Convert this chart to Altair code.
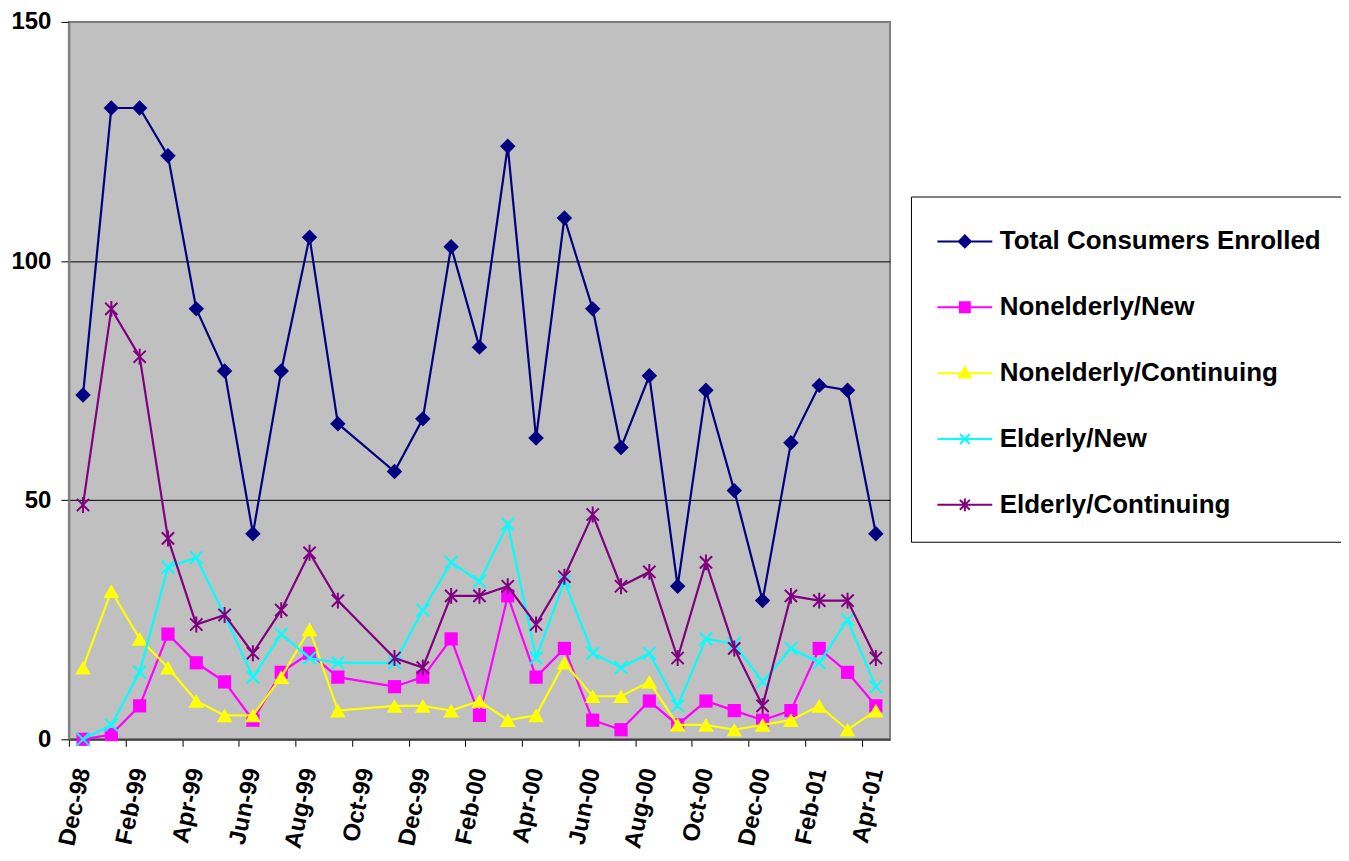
import json
import altair as alt
import pandas as pd

# ---------------- data ----------------
axis_months = ["Dec-98", "Jan-99", "Feb-99", "Mar-99", "Apr-99", "May-99", "Jun-99",
               "Jul-99", "Aug-99", "Sep-99", "Oct-99", "Nov-99", "Dec-99", "Jan-00",
               "Feb-00", "Mar-00", "Apr-00", "May-00", "Jun-00", "Jul-00", "Aug-00",
               "Sep-00", "Oct-00", "Nov-00", "Dec-00", "Jan-01", "Feb-01", "Mar-01",
               "Apr-01"]

months = ["Dec-98", "Jan-99", "Feb-99", "Mar-99", "Apr-99", "May-99", "Jun-99",
          "Jul-99", "Aug-99", "Sep-99", "Nov-99", "Dec-99", "Jan-00", "Feb-00",
          "Mar-00", "Apr-00", "May-00", "Jun-00", "Jul-00", "Aug-00", "Sep-00",
          "Oct-00", "Nov-00", "Dec-00", "Jan-01", "Feb-01", "Mar-01", "Apr-01"]

total = [72, 132, 132, 122, 90, 77, 43, 77, 105, 66, 56, 67, 103, 82, 124, 63, 109,
         90, 61, 76, 32, 73, 52, 29, 62, 74, 73, 43]
nonelderly_new = [0, 1, 7, 22, 16, 12, 4, 14, 18, 13, 11, 13, 21, 5, 30, 13, 19, 4, 2,
                  8, 3, 8, 6, 4, 6, 19, 14, 7]
nonelderly_cont = [15, 31, 21, 15, 8, 5, 5, 13, 23, 6, 7, 7, 6, 8, 4, 5, 16, 9, 9, 12,
                   3, 3, 2, 3, 4, 7, 2, 6]
elderly_new = [0, 3, 14, 36, 38, 26, 13, 22, 17, 16, 16, 27, 37, 33, 45, 17, 33, 18,
               15, 18, 7, 21, 20, 12, 19, 16, 25, 11]
elderly_cont = [49, 90, 80, 42, 24, 26, 18, 27, 39, 29, 17, 15, 30, 30, 32, 24, 34, 47,
                32, 35, 17, 37, 19, 7, 30, 29, 29, 17]

series_names = ["Total Consumers Enrolled", "Nonelderly/New", "Nonelderly/Continuing",
                "Elderly/New", "Elderly/Continuing"]
series_values = [total, nonelderly_new, nonelderly_cont, elderly_new, elderly_cont]

# ---------------- styles ----------------
colors = ["#000080", "#FF00FF", "#FFFF00", "#00FFFF", "#800080"]
marker_shapes = ["diamond", "square", "triangle-up",
                 "M-1,-1L1,1M-1,1L1,-1",
                 "M-1,-1L1,1M-1,1L1,-1M0,-1.3L0,1.3"]
marker_filled = [True, True, True, False, False]
marker_sizes = [240, 175, 250, 160, 150]
legend_shapes = [
    "M-1.375,0L1.375,0M0,-0.3L0.3,0L0,0.3L-0.3,0Z",
    "M-1.375,0L1.375,0M-0.25,-0.25L0.25,-0.25L0.25,0.25L-0.25,0.25Z",
    "M-1.375,0L1.375,0M0,-0.3L0.3,0.22L-0.3,0.22Z",
    "M-1.375,0L1.375,0M-0.25,-0.25L0.25,0.25M-0.25,0.25L0.25,-0.25",
    "M-1.375,0L1.375,0M-0.25,-0.25L0.25,0.25M-0.25,0.25L0.25,-0.25M0,-0.32L0,0.32",
]

FONT = "Liberation Sans"

rows = []
for name, vals in zip(series_names, series_values):
    for m, v in zip(months, vals):
        rows.append({"month": m, "series": name, "value": v,
                     "x": axis_months.index(m) + 0.5})
df = pd.DataFrame(rows)

n_months = len(axis_months)
W, H = 823, 719
TOP = 13

x_enc = alt.X(
    "x:Q",
    title=None,
    scale=alt.Scale(domain=[0, n_months], nice=False, zero=False),
    axis=alt.Axis(
        values=list(range(0, n_months, 2)),
        labelExpr=json.dumps(axis_months) + "[datum.value]",
        grid=False,
        ticks=True, tickSize=7, tickColor="#000000", tickWidth=1,
        domainColor="#404040", domainWidth=2,
        labelAngle=282, labelAlign="right", labelBaseline="middle",
        labelOffset=W / n_months / 2, labelPadding=22,
        labelFont=FONT, labelFontSize=24, labelFontWeight="bold", labelColor="#000000",
        labelOverlap=False, labelFlush=False,
    ),
)
y_enc = alt.Y(
    "value:Q",
    title=None,
    scale=alt.Scale(domain=[0, 150], nice=False, zero=True),
    axis=alt.Axis(
        values=[0, 50, 100, 150],
        grid=True,
        gridColor=alt.condition("datum.value == 150 || datum.value == 0",
                                alt.value("#808080"), alt.value("#000000")),
        gridWidth=1,
        ticks=True, tickSize=8, tickColor="#000000", tickWidth=1,
        domainColor="#808080", domainWidth=2,
        labelPadding=10,
        labelFont=FONT, labelFontSize=24, labelFontWeight="bold", labelColor="#000000",
    ),
)

base = alt.Chart(df)
layers = []
for i, name in enumerate(series_names):
    sub = base.transform_filter(alt.datum.series == name)
    line = sub.mark_line(color=colors[i], strokeWidth=2.2).encode(x=x_enc, y=y_enc)
    if marker_filled[i]:
        pts = sub.mark_point(shape=marker_shapes[i], filled=True, fill=colors[i],
                             opacity=1, size=marker_sizes[i], strokeWidth=0)
    else:
        pts = sub.mark_point(shape=marker_shapes[i], filled=False, stroke=colors[i],
                             opacity=1, size=marker_sizes[i], strokeWidth=2)
    layers.append(line)
    layers.append(pts.encode(x=x_enc, y=y_enc))

leg = alt.Legend(
    title=None, orient="none", legendX=844, legendY=196 - 8 - TOP,
    direction="vertical",
    fillColor="#FFFFFF", strokeColor="#000000", padding=24,
    symbolSize=1600, symbolStrokeWidth=2, symbolOpacity=1,
    symbolOffset=9, labelOffset=14, rowPadding=32,
    labelFont=FONT, labelFontSize=26, labelFontWeight="bold", labelColor="#000000",
    labelLimit=600,
)
legend_layer = base.mark_point(opacity=0).encode(
    x=x_enc, y=y_enc,
    fill=alt.Fill("series:N", scale=alt.Scale(domain=series_names, range=colors),
                  sort=series_names, legend=leg),
    stroke=alt.Stroke("series:N", scale=alt.Scale(domain=series_names, range=colors),
                      sort=series_names, legend=leg),
    shape=alt.Shape("series:N", scale=alt.Scale(domain=series_names, range=legend_shapes),
                    sort=series_names, legend=leg),
)
layers.append(legend_layer)

chart = alt.layer(*layers).properties(
    width=W, height=H,
    background="#FFFFFF",
    autosize=alt.AutoSizeParams(type="none"),
    padding={"left": 61, "top": TOP, "right": 452, "bottom": 112},
).configure_view(
    fill="#C0C0C0", stroke="#808080", strokeWidth=2
)

chart.save("out.html", embed_options={"renderer": "svg", "actions": False})
